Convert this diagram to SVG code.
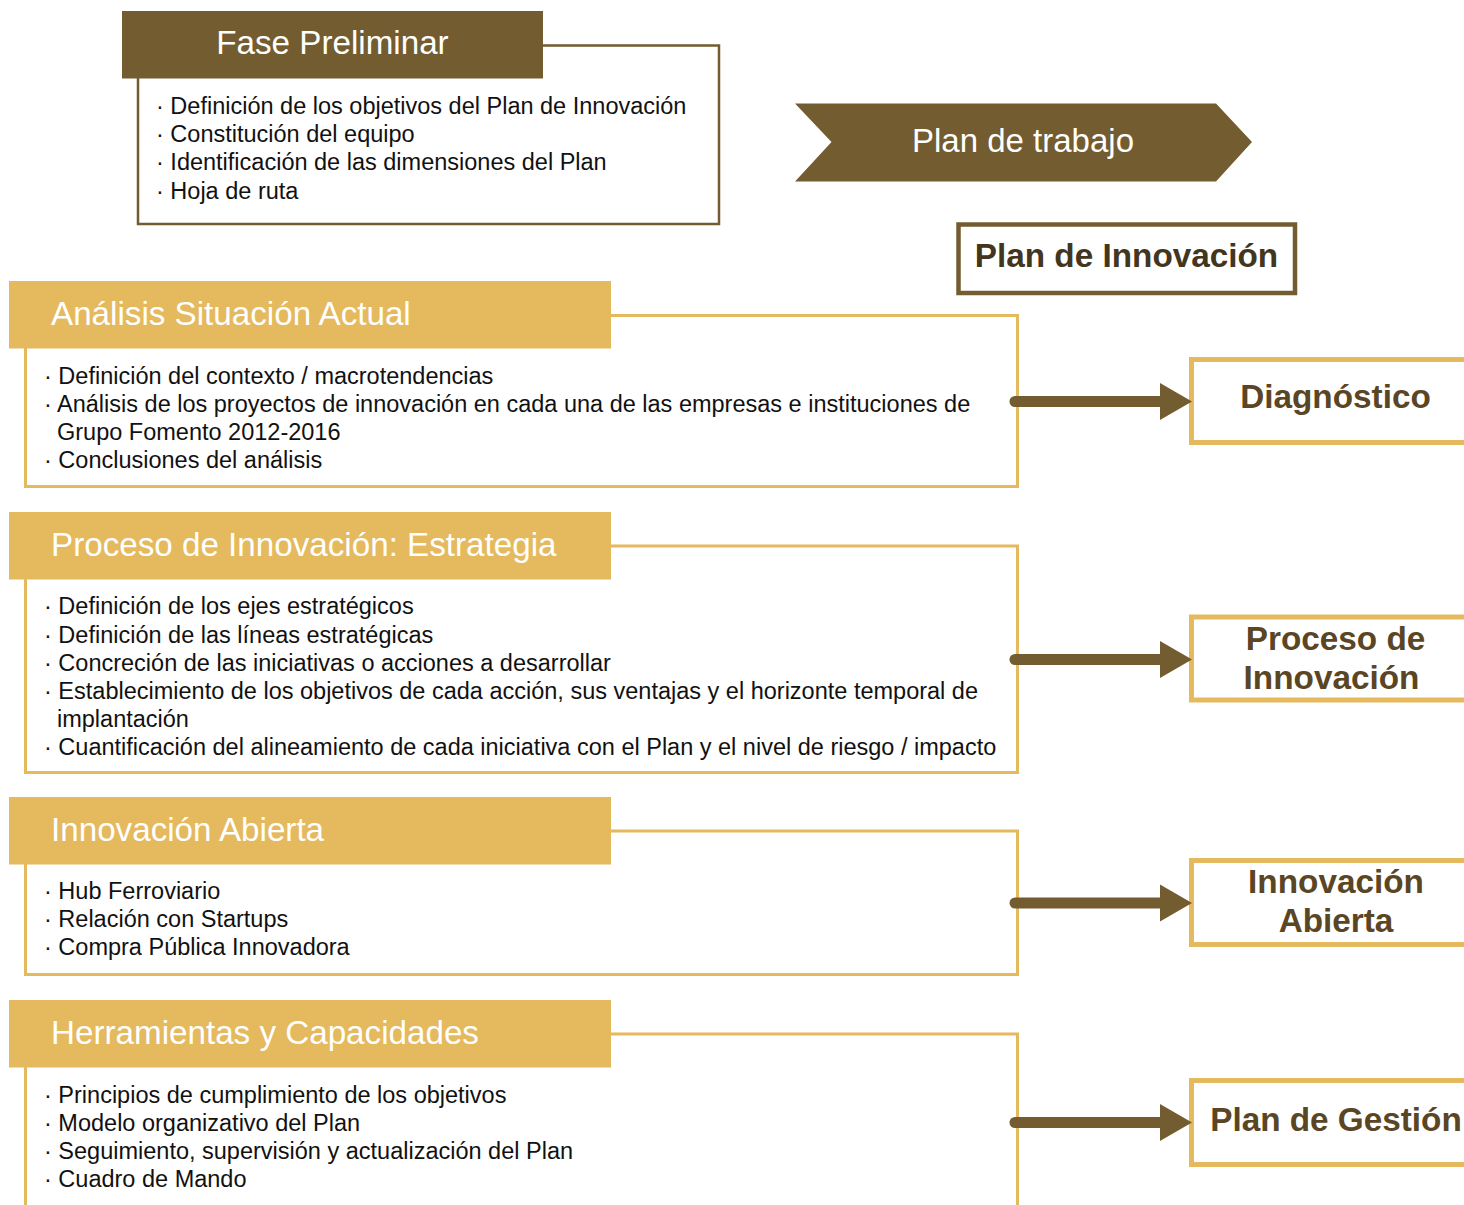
<svg xmlns="http://www.w3.org/2000/svg" width="1464" height="1205" viewBox="0 0 1464 1205">
<style>
.bg{fill:#ffffff}
.dark{fill:#735C2F}
.gold{fill:#E5B95D}
.dbox{fill:#ffffff;stroke:#735C2F;stroke-width:2.5}
.gbox{fill:#ffffff;stroke:#E5B95D;stroke-width:3}
.rbox{fill:#ffffff;stroke:#E5B95D;stroke-width:5}
.pbox{fill:#ffffff;stroke:#735C2F;stroke-width:4.5}
.hdr{font-family:"Liberation Sans",Arial,sans-serif;font-size:33.2px;fill:#ffffff}
.item{font-family:"Liberation Sans",Arial,sans-serif;font-size:23.5px;fill:#111111}
.lbl{font-family:"Liberation Sans",Arial,sans-serif;font-size:33.3px;font-weight:bold;fill:#5A4524;text-anchor:middle}
.conn line{stroke:#735C2F;stroke-width:11;stroke-linecap:round}
.conn polygon{fill:#735C2F}
</style>
<rect class="bg" x="0" y="0" width="1464" height="1205"/>

<g id="fase-preliminar">
<rect class="dbox" x="138" y="45.5" width="581" height="178.5"/>
<rect class="dark" x="122" y="11" width="421" height="67.5"/>
<text class="hdr" x="332.5" y="54" text-anchor="middle">Fase Preliminar</text>
<text class="item" x="156" y="114">· Definición de los objetivos del Plan de Innovación</text>
<text class="item" x="156" y="142">· Constitución del equipo</text>
<text class="item" x="156" y="170">· Identificación de las dimensiones del Plan</text>
<text class="item" x="156" y="199">· Hoja de ruta</text>
</g>

<g id="plan-trabajo">
<polygon class="dark" points="795,103.5 1216,103.5 1252,142 1216,181.5 795,181.5 831.5,142"/>
<text class="hdr" x="1023" y="152" text-anchor="middle" style="font-size:33px">Plan de trabajo</text>
</g>

<g id="plan-innovacion">
<rect class="pbox" x="958.5" y="224.5" width="336.5" height="68.5"/>
<text class="lbl" x="1126.5" y="267" style="fill:#43361E">Plan de Innovación</text>
</g>

<g id="analisis">
<rect class="gbox" x="25.5" y="315.5" width="992" height="171"/>
<rect class="gold" x="9" y="281" width="602" height="67.5"/>
<text class="hdr" x="51" y="325">Análisis Situación Actual</text>
<text class="item" x="44" y="384">· Definición del contexto / macrotendencias</text>
<text class="item" x="44" y="412">· Análisis de los proyectos de innovación en cada una de las empresas e instituciones de</text>
<text class="item" x="57" y="440">Grupo Fomento 2012-2016</text>
<text class="item" x="44" y="468">· Conclusiones del análisis</text>
</g>

<g id="proceso-estrategia">
<rect class="gbox" x="25.5" y="546" width="992" height="226.5"/>
<rect class="gold" x="9" y="512" width="602" height="67.5"/>
<text class="hdr" x="51" y="556">Proceso de Innovación: Estrategia</text>
<text class="item" x="44" y="614">· Definición de los ejes estratégicos</text>
<text class="item" x="44" y="643">· Definición de las líneas estratégicas</text>
<text class="item" x="44" y="671">· Concreción de las iniciativas o acciones a desarrollar</text>
<text class="item" x="44" y="699">· Establecimiento de los objetivos de cada acción, sus ventajas y el horizonte temporal de</text>
<text class="item" x="57" y="727">implantación</text>
<text class="item" x="44" y="755">· Cuantificación del alineamiento de cada iniciativa con el Plan y el nivel de riesgo / impacto</text>
</g>

<g id="innovacion-abierta">
<rect class="gbox" x="25.5" y="831" width="992" height="143.5"/>
<rect class="gold" x="9" y="797" width="602" height="67.5"/>
<text class="hdr" x="51" y="841">Innovación Abierta</text>
<text class="item" x="44" y="899">· Hub Ferroviario</text>
<text class="item" x="44" y="927">· Relación con Startups</text>
<text class="item" x="44" y="955">· Compra Pública Innovadora</text>
</g>

<g id="herramientas">
<rect class="gbox" x="25.5" y="1034" width="992" height="200"/>
<rect class="gold" x="9" y="1000" width="602" height="67.5"/>
<text class="hdr" x="51" y="1044">Herramientas y Capacidades</text>
<text class="item" x="44" y="1103">· Principios de cumplimiento de los objetivos</text>
<text class="item" x="44" y="1131">· Modelo organizativo del Plan</text>
<text class="item" x="44" y="1159">· Seguimiento, supervisión y actualización del Plan</text>
<text class="item" x="44" y="1187">· Cuadro de Mando</text>
</g>

<g id="diagnostico">
<rect class="rbox" x="1191.5" y="359.5" width="320" height="83"/>
<text class="lbl" x="1335.5" y="408">Diagnóstico</text>
</g>

<g id="proceso-innovacion">
<rect class="rbox" x="1191.5" y="617" width="320" height="83"/>
<text class="lbl" x="1335.5" y="650">Proceso de</text>
<text class="lbl" x="1331.5" y="689">Innovación</text>
</g>

<g id="abierta">
<rect class="rbox" x="1191.5" y="860.5" width="320" height="84"/>
<text class="lbl" x="1336" y="893">Innovación</text>
<text class="lbl" x="1336" y="932">Abierta</text>
</g>

<g id="plan-gestion">
<rect class="rbox" x="1191.5" y="1080.5" width="320" height="84"/>
<text class="lbl" x="1336" y="1131">Plan de Gestión</text>
</g>

<g id="connectors" class="conn">
<line x1="1015" y1="401.5" x2="1162" y2="401.5"/>
<polygon points="1160,383 1192,401.5 1160,420"/>
<line x1="1015" y1="659.5" x2="1162" y2="659.5"/>
<polygon points="1160,641 1192,659.5 1160,678"/>
<line x1="1015" y1="903" x2="1162" y2="903"/>
<polygon points="1160,884.5 1192,903 1160,921.5"/>
<line x1="1015" y1="1122.5" x2="1162" y2="1122.5"/>
<polygon points="1160,1104 1192,1122.5 1160,1141"/>
</g>
</svg>
